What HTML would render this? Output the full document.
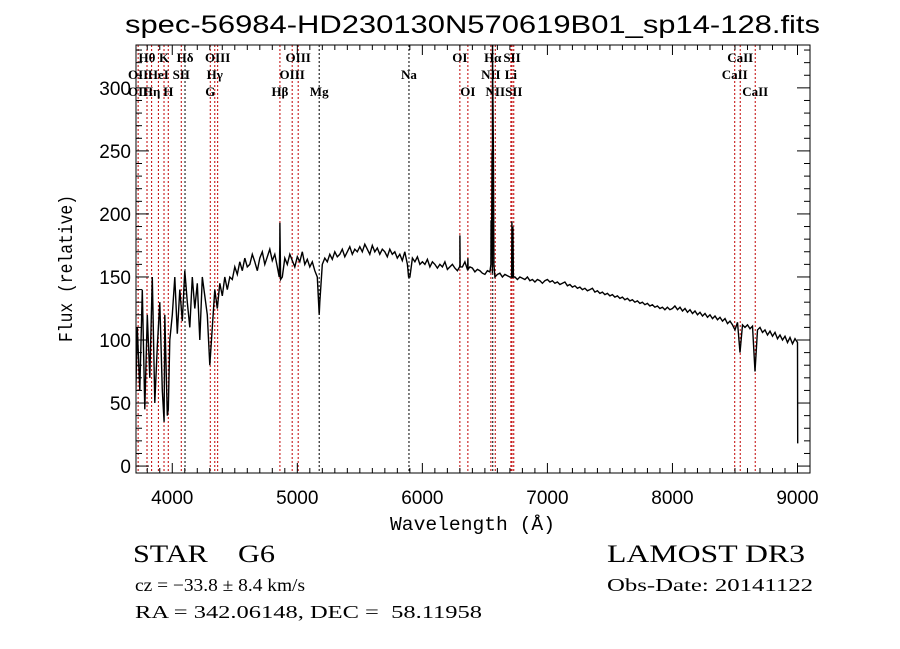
<!DOCTYPE html>
<html><head><meta charset="utf-8"><style>
html,body{margin:0;padding:0;background:#fff;}
svg{display:block;}
text{font-family:"Liberation Serif",serif;fill:#000;}
</style></head><body>
<svg id="chart" width="900" height="649" viewBox="0 0 900 649" xmlns="http://www.w3.org/2000/svg">
<rect width="900" height="649" fill="#fff"/>
<text x="125" y="33" font-size="25" textLength="695" lengthAdjust="spacingAndGlyphs" style="font-family:'Liberation Sans',sans-serif">spec-56984-HD230130N570619B01_sp14-128.fits</text>
<g id="lines"></g>
<g id="labels"></g>
<g id="series"></g>
<g id="axes"></g>
<text x="390" y="530" font-size="19" textLength="165" lengthAdjust="spacingAndGlyphs" style="font-family:'Liberation Mono',monospace">Wavelength (Å)</text>
<text transform="translate(72,342) rotate(-90)" font-size="19" textLength="147" lengthAdjust="spacingAndGlyphs" style="font-family:'Liberation Mono',monospace">Flux (relative)</text>
<text x="133" y="562" font-size="25" textLength="142" lengthAdjust="spacingAndGlyphs" xml:space="preserve">STAR    G6</text>
<text x="607" y="562" font-size="25" textLength="198" lengthAdjust="spacingAndGlyphs">LAMOST DR3</text>
<text x="135" y="591" font-size="18" textLength="170" lengthAdjust="spacingAndGlyphs">cz = −33.8 ± 8.4 km/s</text>
<text x="607" y="591" font-size="18" textLength="206" lengthAdjust="spacingAndGlyphs">Obs-Date: 20141122</text>
<text x="135" y="618" font-size="18" textLength="347" lengthAdjust="spacingAndGlyphs" xml:space="preserve">RA = 342.06148, DEC =  58.11958</text>
</svg>
<script>
const segStarts = [3700,4000,4300,4500,4900,5200,5500,6000,6300,6580,7000,8000];
const segStep = 20;
const segFlux = [
 [20,110,60,140,45,120,70,150,50,95,130,60,120,40,100],
 [120,150,105,140,115,155,130,110,150,125,145,100,150,135,120],
 [80,110,140,125,145,135,150,140,150,148],
 [158,152,162,155,165,158,160,168,162,155,165,170,160,166,172,163,168,158,175,150],
 [165,160,168,163,158,166,162,170,160,164,158,162,155,150,130],
 [160,165,162,168,164,170,166,168,172,166,170,174,168,172,170],
 [174,170,176,172,168,175,170,173,168,172,170,166,172,168,170,165,168,163,170,160,150,165,162,166,160],
 [162,160,164,158,162,160,157,160,158,162,156,158,160,157,155],
 [160,158,162,156,158,157,154,156,155,153,152,155,154,153],
 [150,152,153,150,152,151,150,149,150,148,150,149,148,150,147,148,146,148,147,145,147],
 [148,146,147,145,146,144,145,146,143,144,142,143,141,142,140,141,139,140,141,138,139,137,138,136,137,135,136,134,135,133,134,132,133,131,132,130,131,129,130,128,129,127,128,126,127,125,126,124,126,124],
 [125,127,124,126,123,125,122,124,121,123,120,122,119,121,118,120,117,119,116,118,115,117,113,115,112,108,114,90,112,110,112,109,111,75,108,110,106,108,104,107,103,106,101,104,100,103,98,102,97,101]
];
const featureWaves = [3935,3968,4861,4855,4866,5175,5890,6298,6300,6303,6362,6364,6366,6548,6550,6554,6558,6561,6563,6565,6568,6572,6714,6716,6720,6724,6728,9000,9002];
const featureFlux  = [35,45,193,150,148,120,150,158,183,158,156,165,156,160,195,180,250,340,300,288,248,160,150,194,170,190,150,98,18];
const xTicks = [4000,5000,6000,7000,8000,9000];
const yTicks = [0,50,100,150,200,250,300];
const lineWaves = [3727,3798,3835,3889,3934,3968,4072,4102,4304,4340,4363,4861,4959,5007,5175,5893,6300,6364,6548,6563,6583,6708,6717,6731,8498,8542,8662];
const lineColors= ['r','r','r','r','r','r','r','k','r','r','r','r','r','r','k','k','r','r','r','k','r','r','r','r','r','r','r'];
const labelText = ['Hθ','K','Hδ','OIII','OIII','OI','Hα','SII','CaII','OII','HeI','SII','Hγ','OIII','Na','NII','Li','CaII','OII','Hη','H','G','Hβ','Mg','OI','NII','SII','CaII'];
const labelWave = [3798,3934,4102,4363,5007,6300,6563,6717,8542,3727,3889,4072,4340,4959,5893,6548,6708,8498,3727,3835,3968,4304,4861,5175,6364,6583,6731,8662];
const labelRow  = [0,0,0,0,0,0,0,0,0,1,1,1,1,1,1,1,1,1,2,2,2,2,2,2,2,2,2,2];

const X0=136,X1=810,Y0=45,Y1=473;
const xMin=3710,xMax=9100,yMin=-5.5,yMax=334;
const xs=w=>X0+(w-xMin)/(xMax-xMin)*(X1-X0);
const ys=f=>Y1-(f-yMin)/(yMax-yMin)*(Y1-Y0);
const NS='http://www.w3.org/2000/svg';
function mk(tag,parent,attrs){const e=document.createElementNS(NS,tag);for(const k in attrs)e.setAttribute(k,attrs[k]);parent.appendChild(e);return e;}

const gl=document.getElementById('lines');
lineWaves.forEach((w,i)=>{
  const l=mk('line',gl,{x1:xs(w),x2:xs(w),y1:Y0,y2:Y1,stroke:lineColors[i]==='r'?'#c00000':'#000','stroke-width':1,'stroke-dasharray':'2,2'});
  
  
});
const glb=document.getElementById('labels');
const rowY=[62,79,96];
labelText.forEach((t,i)=>{
  const e=mk('text',glb,{x:xs(labelWave[i]),y:rowY[labelRow[i]],'font-size':13,'font-weight':'bold','text-anchor':'middle'});
  e.textContent=t;
  
  
});

const pts=[];
segStarts.forEach((s,i)=>segFlux[i].forEach((f,j)=>pts.push([s+j*segStep,f])));
featureWaves.forEach((w,i)=>pts.push([w,featureFlux[i]]));
pts.sort((a,b)=>a[0]-b[0]);
const gs=document.getElementById('series');
const cp=mk('clipPath',document.getElementById('chart'),{id:'clip'});
mk('rect',cp,{x:X0,y:Y0,width:X1-X0,height:Y1-Y0});
const p=mk('path',gs,{d:'M'+pts.map(q=>xs(q[0]).toFixed(1)+','+ys(q[1]).toFixed(1)).join('L'),fill:'none',stroke:'#000','stroke-width':1.4,'clip-path':'url(#clip)'});



const ga=document.getElementById('axes');
const fr=mk('rect',ga,{x:X0,y:Y0,width:X1-X0,height:Y1-Y0,fill:'none',stroke:'#000','stroke-width':1});


for(let w=3800;w<=9100;w+=100){
  const maj=w%1000===0, len=maj?10:5;
  mk('line',ga,{x1:xs(w),x2:xs(w),y1:Y1,y2:Y1-len,stroke:'#000'});
  mk('line',ga,{x1:xs(w),x2:xs(w),y1:Y0,y2:Y0+len,stroke:'#000'});
}
for(let f=0;f<=330;f+=10){
  const maj=f%50===0, len=maj?13:6;
  mk('line',ga,{x1:X0,x2:X0+len,y1:ys(f),y2:ys(f),stroke:'#000'});
  mk('line',ga,{x1:X1,x2:X1-len,y1:ys(f),y2:ys(f),stroke:'#000'});
}
xTicks.forEach(v=>{
  const t=mk('text',ga,{x:xs(v),y:504,'font-size':19,'text-anchor':'middle',style:"font-family:'Liberation Sans',sans-serif"});
  t.textContent=v;
  
  
});
yTicks.forEach(v=>{
  const t=mk('text',ga,{x:131,y:ys(v)+7,'font-size':19,'text-anchor':'end',style:"font-family:'Liberation Sans',sans-serif"});
  t.textContent=v;
  
  
});
</script>
</body></html>
